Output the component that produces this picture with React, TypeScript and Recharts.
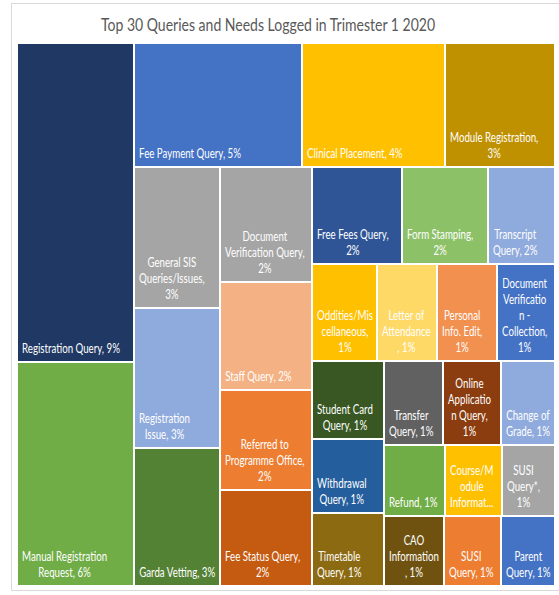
import React from 'react';
import { Treemap } from 'recharts';

const TITLE = 'Top 30 Queries and Needs Logged in Trimester 1 2020';

const categories = [
  'Registration Query', 'Manual Registration Request', 'Fee Payment Query', 'Clinical Placement',
  'Module Registration', 'General SIS Queries/Issues', 'Registration Issue', 'Garda Vetting',
  'Document Verification Query', 'Staff Query', 'Referred to Programme Office', 'Fee Status Query',
  'Free Fees Query', 'Form Stamping', 'Transcript Query', 'Oddities/Miscellaneous',
  'Letter of Attendance', 'Personal Info. Edit', 'Document Verification - Collection', 'Student Card Query',
  'Withdrawal Query', 'Timetable Query', 'Transfer Query', 'Online Application Query',
  'Change of Grade', 'Refund', 'Course/Module Information', 'SUSI Query*',
  'CAO Information', 'SUSI Query', 'Parent Query',
];

const values = [
  369, 259, 208, 176,
  136, 121, 120, 118,
  105, 99, 91, 88,
  86, 83, 64, 63,
  58, 57, 56, 56,
  53, 52, 49, 48,
  45, 43, 40, 37,
  42, 40, 38,
];

// data labels as wrapped in the original
const labelLines = [
  ['Registration Query, 9%'], ['Manual Registration', 'Request, 6%'], ['Fee Payment Query, 5%'], ['Clinical Placement, 4%'],
  ['Module Registration,', '3%'], ['General SIS', 'Queries/Issues,', '3%'], ['Registration', 'Issue, 3%'], ['Garda Vetting, 3%'],
  ['Document', 'Verification Query,', '2%'], ['Staff Query, 2%'], ['Referred to', 'Programme Office,', '2%'], ['Fee Status Query,', '2%'],
  ['Free Fees Query,', '2%'], ['Form Stamping,', '2%'], ['Transcript', 'Query, 2%'], ['Oddities/Mis', 'cellaneous,', '1%'],
  ['Letter of', 'Attendance', ', 1%'], ['Personal', 'Info. Edit,', '1%'], ['Document', 'Verificatio', 'n -', 'Collection,', '1%'], ['Student Card', 'Query, 1%'],
  ['Withdrawal', 'Query, 1%'], ['Timetable', 'Query, 1%'], ['Transfer', 'Query, 1%'], ['Online', 'Applicatio', 'n Query,', '1%'],
  ['Change of', 'Grade, 1%'], ['Refund, 1%'], ['Course/M', 'odule', 'Informat...'], ['SUSI', 'Query*,', '1%'],
  ['CAO', 'Information', ', 1%'], ['SUSI', 'Query, 1%'], ['Parent', 'Query, 1%'],
];

const colors = [
  '#203864', '#70AD47', '#4472C4', '#FFC000',
  '#BF9000', '#A5A5A5', '#8FAADC', '#548235',
  '#A5A5A5', '#F4B183', '#ED7D31', '#C55A11',
  '#2F5597', '#8CC168', '#8FAADC', '#FFC000',
  '#FFD966', '#F2904F', '#4472C4', '#385723',
  '#255E9C', '#8C6A12', '#616161', '#8B3D0F',
  '#8FAADC', '#70AD47', '#FFC000', '#A5A5A5',
  '#6F5210', '#ED7D31', '#4472C4',
];

// --- hierarchy (order of the original layout) ---
const leaf = (i: number) => ({ name: categories[i], size: values[i] });
// first node takes a full strip of its parent, the rest fills the remainder
const peel = (first: any, rest: any) => ({ children: [first, rest] });
const chain = (...idx: number[]): any =>
  idx.length === 1 ? leaf(idx[0]) : peel(leaf(idx[0]), chain(...idx.slice(1)));
// all nodes side by side in one band (an empty zero-size entry keeps them in one row)
const band = (...nodes: any[]) => ({ children: [{ name: '', size: 0 }, ...nodes] });

const rows1pct = band(chain(25, 26, 27), chain(28, 29, 30));
const block1pct = peel(chain(19, 20, 21), peel(chain(22, 23, 24), rows1pct));
const rightBlock = peel(chain(12, 13, 14), peel(chain(15, 16, 17, 18), block1pct));
const lower = peel(chain(5, 6, 7), band(chain(8, 9, 10, 11), rightBlock));
const treeData = band(chain(0, 1), peel(chain(2, 3, 4), lower)).children;

// --- text helpers ---
let ctx: CanvasRenderingContext2D | null = null;
const measure = (s: string, font: string) => {
  if (!ctx) ctx = document.createElement('canvas').getContext('2d');
  if (!ctx) return s.length * 6;
  ctx.font = font;
  return ctx.measureText(s).width;
};
const LABEL_SIZE = 12.5;
const LABEL_FONT = `${LABEL_SIZE}px Lato`;
const TITLE_SIZE = 17;

const renderCell = (props: any) => {
  const { x, y, width, height, name, children } = props;
  const i = categories.indexOf(name);
  if (i < 0 || (children && children.length) || !(width > 0) || !(height > 0)) return <g />;
  const sx = 98 / measure('Registration Query, 9%', LABEL_FONT);
  const lines = labelLines[i];
  const boxW = Math.max(...lines.map((l) => measure(l, LABEL_FONT) * sx));
  const cx = x + 5 + boxW / 2;
  const last = y + height - 9;
  return (
    <g>
      <rect x={x} y={y} width={width} height={height} fill={colors[i]} stroke="#fff" strokeWidth={2} />
      {lines.map((l, k) => (
        <text
          key={k}
          transform={`translate(${cx} ${last - (lines.length - 1 - k) * 16}) scale(${sx} 1)`}
          textAnchor="middle"
          fill="#fff"
          fontFamily="Lato"
          fontSize={LABEL_SIZE}
        >
          {l}
        </text>
      ))}
    </g>
  );
};

export default function App() {
  const tsx = 335 / measure(TITLE, `${TITLE_SIZE}px Lato`);
  return (
    <div style={{ position: 'absolute', left: 0, top: 0, width: 559, height: 595, background: '#fff', overflow: 'hidden' }}>
      <svg width={559} height={595} style={{ position: 'absolute', left: 0, top: 0 }}>
        <rect x={11.5} y={3.5} width={600} height={587} fill="#fff" stroke="#D9D9D9" />
        <text
          transform={`translate(268 31) scale(${tsx} 1)`}
          textAnchor="middle"
          fontFamily="Lato"
          fontSize={TITLE_SIZE}
          fill="#595959"
        >
          {TITLE}
        </text>
      </svg>
      <div style={{ position: 'absolute', left: 17, top: 43 }}>
        <Treemap
          width={538}
          height={543}
          data={treeData}
          dataKey="size"
          nameKey="name"
          aspectRatio={0.5}
          isAnimationActive={false}
          content={renderCell}
        />
      </div>
    </div>
  );
}
